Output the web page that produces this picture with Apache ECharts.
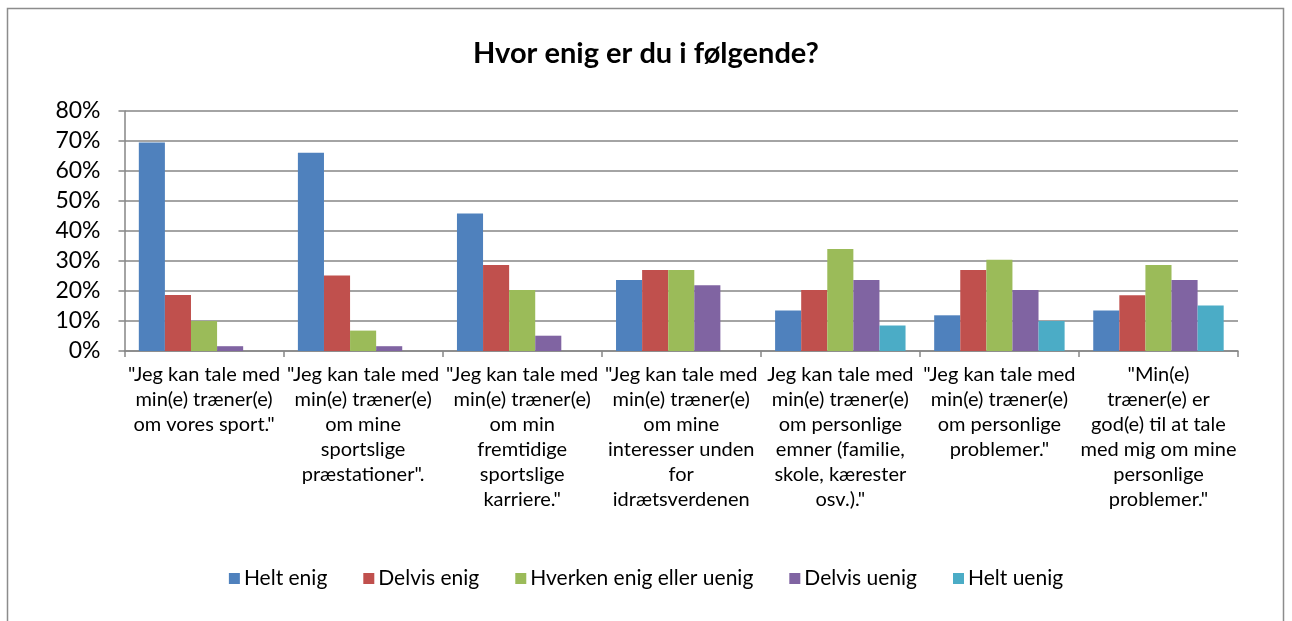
<!DOCTYPE html>
<html>
<head>
<meta charset="utf-8">
<script src="https://cdn.jsdelivr.net/npm/echarts@6/dist/echarts.min.js"></script>
<style>
html, body { margin: 0; padding: 0; background: #fff; }
#chart { width: 1292px; height: 621px; }
</style>
</head>
<body>
<div id="chart"></div>
<script>
var categories = [
	'"Jeg kan tale med\nmin(e) træner(e)\nom vores sport."',
	'"Jeg kan tale med\nmin(e) træner(e)\nom mine\nsportslige\npræstationer".',
	'"Jeg kan tale med\nmin(e) træner(e)\nom min\nfremtidige\nsportslige\nkarriere."',
	'"Jeg kan tale med\nmin(e) træner(e)\nom mine\ninteresser unden\nfor\nidrætsverdenen',
	'Jeg kan tale med\nmin(e) træner(e)\nom personlige\nemner (familie,\nskole, kærester\nosv.)."',
	'"Jeg kan tale med\nmin(e) træner(e)\nom personlige\nproblemer."',
	'"Min(e)\ntræner(e) er\ngod(e) til at tale\nmed mig om mine\npersonlige\nproblemer."'
];
var seriesNames = ['Helt enig', 'Delvis enig', 'Hverken enig eller uenig', 'Delvis uenig', 'Helt uenig'];
var heltEnig = [69.5, 66.1, 45.8, 23.7, 13.5, 11.9, 13.5];
var delvisEnig = [18.7, 25.2, 28.7, 27.0, 20.3, 27.0, 18.6];
var hverken = [10.0, 6.8, 20.3, 27.0, 34.0, 30.4, 28.7];
var delvisUenig = [1.6, 1.6, 5.1, 21.9, 23.7, 20.3, 23.7];
var heltUenig = [0, 0, 0, 0, 8.5, 10.0, 15.2];
var colors = ['#4F81BD', '#C0504D', '#9BBB59', '#8064A2', '#4BACC6'];

var font = 'Lato, "Open Sans", sans-serif';
var chart = echarts.init(document.getElementById('chart'));

var values = [heltEnig, delvisEnig, hverken, delvisUenig, heltUenig];
var series = [];
for (var i = 0; i < seriesNames.length; i++) {
	series.push({
		name: seriesNames[i],
		type: 'bar',
		data: values[i],
		barGap: '0%',
		barCategoryGap: '18%',
		itemStyle: { color: colors[i] }
	});
}

chart.setOption({
	animation: false,
	color: colors,
	textStyle: { fontFamily: font },
	title: {
		text: 'Hvor enig er du i følgende?',
		left: 'center',
		top: 34,
		textStyle: { fontSize: 29, fontWeight: 'bold', color: '#000', fontFamily: font }
	},
	graphic: [{
		type: 'rect',
		shape: { x: 7.5, y: 8.5, width: 1276, height: 630 },
		style: { fill: 'none', stroke: '#8c8c8c', lineWidth: 1.5 },
		silent: true
	}],
	legend: {
		bottom: 27,
		left: 'center',
		itemWidth: 11,
		itemHeight: 11,
		itemGap: 36,
		icon: 'rect',
		textStyle: { fontSize: 21, color: '#000', fontFamily: font, padding: [0, 0, 0, -1] },
		data: seriesNames
	},
	grid: { left: 124.5, right: 54, top: 111, bottom: 270, containLabel: false },
	xAxis: {
		type: 'category',
		data: categories,
		axisLine: { lineStyle: { color: '#868686', width: 1.5 } },
		axisTick: { show: true, length: 6, lineStyle: { color: '#868686', width: 1.5 } },
		axisLabel: { interval: 0, fontSize: 20, lineHeight: 25, color: '#000', margin: 11, fontFamily: font }
	},
	yAxis: {
		type: 'value',
		min: 0,
		max: 80,
		interval: 10,
		axisLine: { show: true, lineStyle: { color: '#868686', width: 1.5 } },
		axisTick: { show: true, length: 6, lineStyle: { color: '#868686', width: 1.5 } },
		axisLabel: { formatter: '{value}%', fontSize: 23, color: '#000', margin: 24, fontFamily: font },
		splitLine: { lineStyle: { color: '#868686', width: 1.5 } }
	},
	series: series
});
</script>
</body>
</html>
